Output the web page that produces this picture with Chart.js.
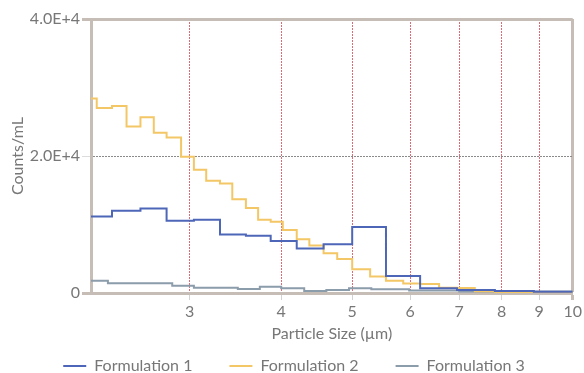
<!DOCTYPE html>
<html><head><meta charset="utf-8">
<script src="https://cdn.jsdelivr.net/npm/chart.js@4.4.0/dist/chart.umd.min.js"></script>
<style>html,body{margin:0;padding:0;background:#fff;}</style>
</head><body>
<canvas id="c" width="584" height="373"></canvas>
<script>
const seriesNames = ['Formulation 1', 'Formulation 2', 'Formulation 3'];
const seriesColors = ['#4d66b8', '#f4c766', '#8b9cab'];

// bin edges (µm) and counts/mL per bin
const f1Edges = [2.2, 2.35, 2.57, 2.79, 3.04, 3.30, 3.58, 3.87, 4.20, 4.57, 5.0, 5.56, 6.19, 6.95, 7.83, 8.85, 10];
const f1Counts = [11150, 12000, 12350, 10550, 10700, 8550, 8350, 7600, 6500, 7100, 9650, 2500, 700, 450, 300, 200];

const f2Edges = [2.2, 2.24, 2.35, 2.46, 2.57, 2.68, 2.79, 2.92, 3.04, 3.16, 3.30, 3.43, 3.58, 3.72, 3.87, 4.02, 4.20, 4.37, 4.57, 4.77, 5.0, 5.29, 5.56, 5.87, 6.19, 6.57, 6.95, 7.35, 7.83, 8.31, 8.85, 9.42, 10];
const f2Counts = [28400, 27000, 27300, 24300, 25650, 23400, 22700, 19900, 18000, 16400, 16000, 13700, 12400, 10700, 10400, 9200, 7850, 6950, 5800, 4950, 3450, 2400, 1800, 1400, 1300, 750, 730, 250, 150, 100, 80, 60];

const f3Edges = [2.2, 2.32, 2.84, 3.04, 3.49, 3.74, 4.0, 4.3, 4.61, 4.95, 5.31, 5.98, 7.0, 10];
const f3Counts = [1800, 1420, 1050, 770, 580, 920, 690, 290, 440, 690, 540, 380, 220];

const xTickValues = [3, 4, 5, 6, 7, 8, 9, 10];
const yTickValues = [0, 20000, 40000];

const borderGray = 'rgb(198,189,183)';
const textGray = '#777777';
const font = {family: 'Lato, "Open Sans", sans-serif', size: 16, weight: 400};

function stepPoints(edges, counts) {
  return edges.map((e, i) => ({x: e, y: counts[Math.min(i, counts.length - 1)]}));
}
const allEdges = [f1Edges, f2Edges, f3Edges];
const allCounts = [f1Counts, f2Counts, f3Counts];

const datasets = seriesNames.map((name, i) => ({
  label: name,
  data: stepPoints(allEdges[i], allCounts[i]),
  borderColor: seriesColors[i],
  backgroundColor: seriesColors[i],
  borderWidth: 2,
  stepped: true,
  pointRadius: 0,
  fill: false
}));

const tv = c => (c && c.tick) ? c.tick.value : undefined;

new Chart(document.getElementById('c'), {
  type: 'line',
  data: {datasets},
  options: {
    responsive: false,
    animation: false,
    devicePixelRatio: 1,
    layout: {padding: {left: 14, right: 10, top: 19, bottom: -11}},
    plugins: {
      legend: {
        position: 'bottom',
        labels: {usePointStyle: true, pointStyle: 'line', pointStyleWidth: 23, padding: 37, color: textGray, font}
      },
      tooltip: {enabled: false}
    },
    scales: {
      x: {
        type: 'logarithmic', min: 2.2, max: 10, bounds: 'data',
        afterBuildTicks: s => { s.ticks = xTickValues.map(v => ({value: v})); },
        afterFit: s => { s.height = 28; },
        ticks: {autoSkip: false, maxRotation: 0, minRotation: 0, padding: 2, color: textGray, font, callback: v => String(v)},
        grid: {
          color: c => tv(c) === 10 ? borderGray : 'rgba(214,70,84,0.8)',
          lineWidth: c => tv(c) === 10 ? 3 : 1,
          tickColor: c => tv(c) === 10 ? borderGray : '#d2d2d2',
          tickWidth: c => tv(c) === 10 ? 3 : 1,
          tickLength: 7
        },
        border: {display: true, color: borderGray, width: 3, dash: c => (tv(c) !== undefined && tv(c) < 10) ? [2, 1] : []},
        title: {display: true, text: 'Particle Size (µm)', color: textGray, font, padding: {top: 0, bottom: -22}}
      },
      y: {
        min: 0, max: 40000,
        afterBuildTicks: s => { s.ticks = yTickValues.map(v => ({value: v})); },
        afterFit: s => { s.width = 77; },
        ticks: {padding: 2, color: textGray, font, callback: v => v === 0 ? '0' : Number(v).toExponential(1).replace('e', 'E')},
        grid: {
          color: c => tv(c) === 20000 ? '#8a8a8a' : borderGray,
          lineWidth: c => tv(c) === 20000 ? 1 : 3,
          tickColor: c => tv(c) === 20000 ? '#dcdcdc' : borderGray,
          tickWidth: c => tv(c) === 20000 ? 1 : 3,
          tickLength: 9
        },
        border: {display: true, color: borderGray, width: 3, dash: c => tv(c) === 20000 ? [2, 1] : []},
        title: {display: true, text: 'Counts/mL', color: textGray, font, padding: {top: -6, bottom: 0}}
      }
    }
  }
});
</script>
</body></html>
